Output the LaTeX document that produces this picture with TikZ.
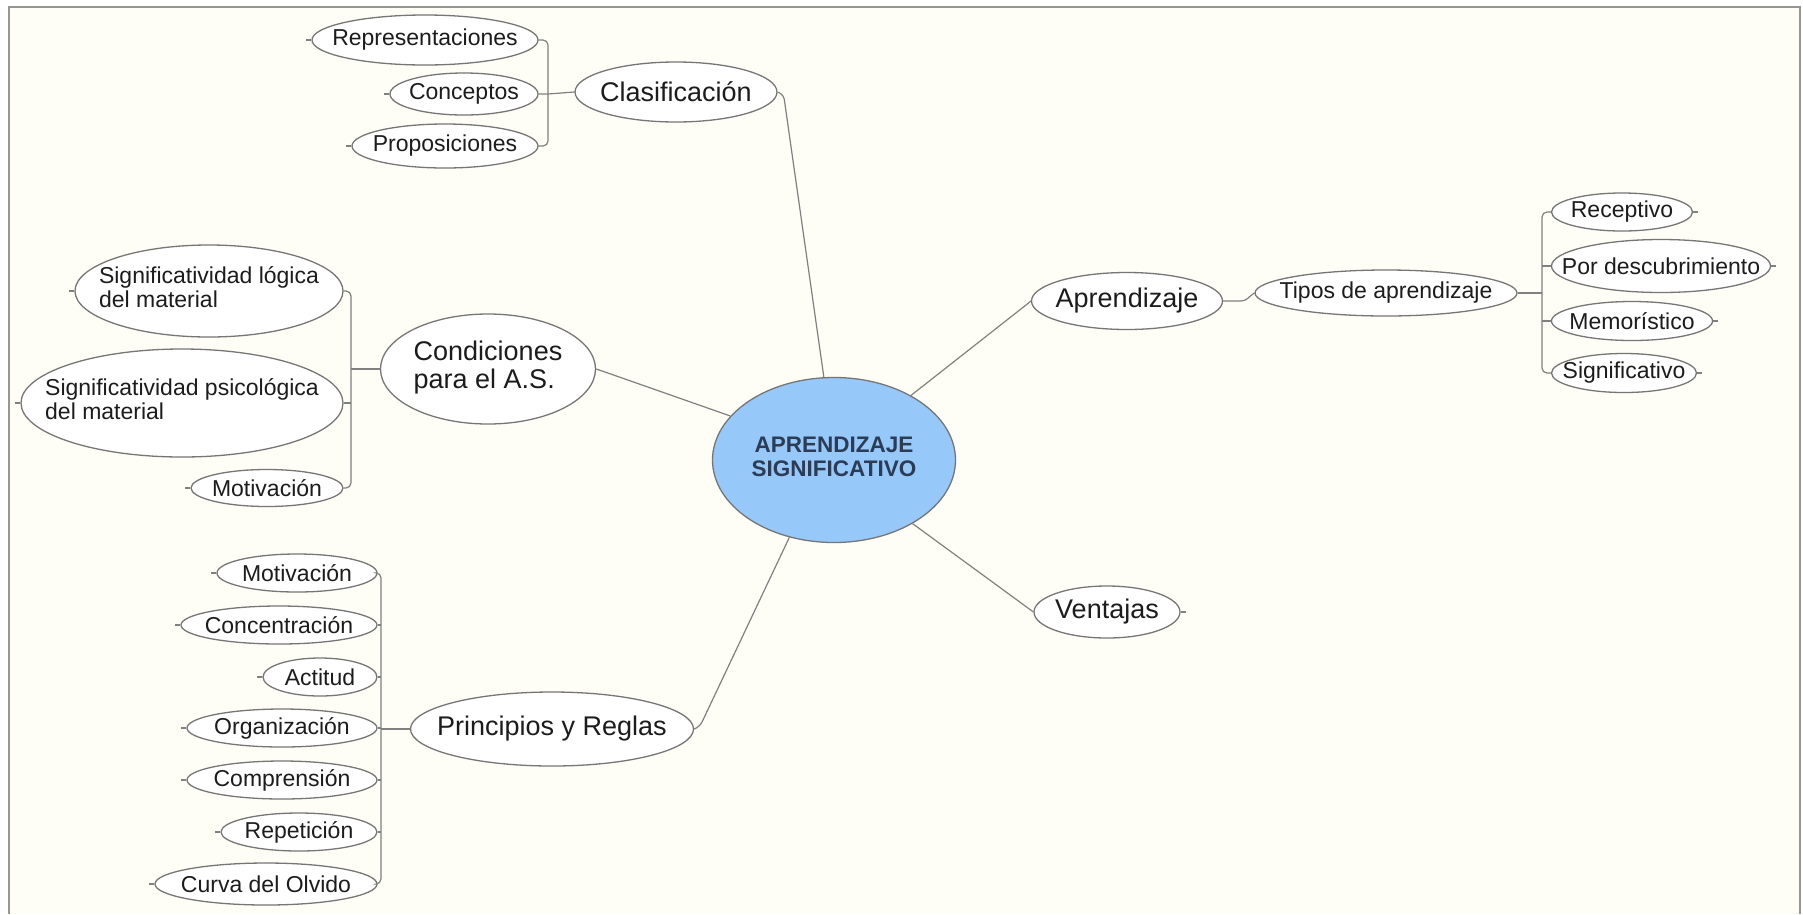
\documentclass[tikz,border=0pt]{standalone}
\usepackage{fontspec}
\setmainfont{Liberation Sans}
\usetikzlibrary{shapes.geometric}

\definecolor{paper}{RGB}{254,254,246}
\definecolor{framegray}{RGB}{150,150,146}
\definecolor{edge}{RGB}{128,128,128}
\definecolor{rim}{RGB}{118,118,118}
\definecolor{core}{RGB}{150,200,250}
\definecolor{coretext}{RGB}{44,60,85}
\definecolor{ink}{RGB}{28,28,28}

% text of a topic, kept out of the size of its ellipse
\newcommand\one[1]{\makebox[0pt]{#1}}
\newcommand\two[2]{\makebox[0pt]{\begin{tabular}{@{}l@{}}#1\\#2\end{tabular}}}

\begin{document}
\begin{tikzpicture}[x=1pt,y=-1pt,
  topic/.style={ellipse, draw=rim, line width=1.3pt, fill=white, inner sep=0pt, text=ink},
  main/.style={topic, font=\fontsize{27}{28}\selectfont},
  leaf/.style={topic, font=\fontsize{23}{24}\selectfont},
  sz/.style 2 args={minimum width=#1pt, minimum height=#2pt},
  conn/.style={draw=edge, line width=1.2pt},
  stub/.style={draw=edge, line width=1.2pt}]

\useasboundingbox (0,0) rectangle (1803,914);
\fill[white] (0,0) rectangle (1803,914);
\fill[paper] (9,7) rectangle (1800,914);
\draw[framegray, line width=2pt] (9,914) -- (9,7) -- (1800,7) -- (1800,914);

% central topic
\node[ellipse, draw=rim, line width=1.3pt, fill=core, inner sep=0pt, sz={243}{165},
      text=coretext, font=\bfseries\fontsize{22.5}{23.5}\selectfont] (ctr) at (834,460)
  {\makebox[0pt]{\begin{tabular}{@{}c@{}}APRENDIZAJE\\SIGNIFICATIVO\end{tabular}}};

% main branches
\node[main, sz={202}{60}]  (clas)  at (676,92)  {\one{Clasificación}};
\node[main, sz={215}{110}] (cond)  at (488,369) {\makebox[0pt]{\begin{tabular}{@{}l@{}}Condiciones\\para el A.S.\end{tabular}}};
\node[main, sz={283}{74}]  (princ) at (552,729) {\one{Principios y Reglas}};
\node[main, sz={191}{57}]  (apr)   at (1127,301) {\one{Aprendizaje}};
\node[main, sz={146}{52}]  (vent)  at (1107,612) {\one{Ventajas}};

% Clasificación
\node[leaf, sz={226}{50}] (rep)  at (425,40)  {\one{Representaciones}};
\node[leaf, sz={148}{42}] (conc) at (464,94)  {\one{Conceptos}};
\node[leaf, sz={186}{44}] (prop) at (445,146) {\one{Proposiciones}};

% Condiciones para el A.S.
\node[leaf, sz={268}{92}]  (siglog) at (209,291) {\two{Significatividad lógica}{del material}};
\node[leaf, sz={322}{108}] (sigpsi) at (182,403) {\two{Significatividad psicológica}{del material}};
\node[leaf, sz={152}{37}]  (motc)   at (267,488) {\one{Motivación}};

% Principios y Reglas
\node[leaf, sz={160}{38}] (motp)  at (297,573) {\one{Motivación}};
\node[leaf, sz={196}{38}] (conp)  at (279,625) {\one{Concentración}};
\node[leaf, sz={114}{38}] (act)   at (320,677) {\one{Actitud}};
\node[leaf, sz={190}{38}] (org)   at (282,728) {\one{Organización}};
\node[leaf, sz={190}{38}] (comp)  at (282,780) {\one{Comprensión}};
\node[leaf, sz={156}{38}] (repe)  at (299,832) {\one{Repetición}};
\node[leaf, sz={222}{42}] (curva) at (266,884) {\one{Curva del Olvido}};

% Aprendizaje
\node[leaf, sz={262}{46}] (tipos) at (1386,293) {\one{Tipos de aprendizaje}};
\node[leaf, sz={141}{38}] (rec)   at (1622,212) {\one{Receptivo}};
\node[leaf, sz={219}{53}] (pord)  at (1661,266) {\one{Por descubrimiento}};
\node[leaf, sz={161}{39}] (mem)   at (1632,321) {\one{Memorístico}};
\node[leaf, sz={145}{39}] (sig)   at (1624,373) {\one{Significativo}};

% bracket spines and hook points
\coordinate (b1) at (548,94);
\coordinate (b2) at (351,369);
\coordinate (b3) at (381,729);
\coordinate (b4) at (1542,293);
\coordinate (aprhook) at (1026,305);
\coordinate (venthook) at (1028,608);

% links to the central topic
\draw[conn, rounded corners=4pt] (clas.east) -- ++(6,3) -- (ctr.97);
\draw[conn, rounded corners=4pt] (cond.east) -- ++(6,2) -- (ctr.157);
\draw[conn, rounded corners=4pt] (princ.east) -- ++(6,-3) -- (ctr.240);
\draw[conn, rounded corners=4pt] (ctr.40) -- (aprhook) -- (apr.west);
\draw[conn, rounded corners=4pt] (ctr.-39) -- (venthook) -- (vent.west);

% Clasificación children
\draw[conn, rounded corners=5pt] (rep.east) -| (b1) |- (prop.east);
\draw[conn] (conc.east) -- (b1) -- (clas.west);

% Condiciones children
\draw[conn, rounded corners=5pt] (siglog.east) -| (b2) |- (motc.east);
\draw[conn] (sigpsi.east) -- (sigpsi.east -| b2);
\draw[conn] (b2) -- (cond.west);

% Principios children
\draw[conn, rounded corners=5pt] (motp.east) -| (b3) |- (curva.east);
\foreach \n in {conp,act,org,comp,repe}
  \draw[conn] (\n.east) -- (\n.east -| b3);
\draw[conn] (b3) -- (princ.west);

% Aprendizaje children
\draw[conn, rounded corners=4pt] (apr.east) -- ++(22,0) -- ++(6,-6) -- (tipos.west);
\draw[conn, rounded corners=5pt] (rec.west) -| (b4) |- (sig.west);
\foreach \n in {pord,mem}
  \draw[conn] (\n.west) -- (\n.west -| b4);
\draw[conn] (tipos.east) -- (b4);

% collapsed-branch stubs
\foreach \n in {rep,conc,prop,siglog,sigpsi,motc,motp,conp,act,org,comp,repe,curva}
  \draw[stub] (\n.west) -- ++(-5,0);
\foreach \n in {rec,pord,mem,sig,vent}
  \draw[stub] (\n.east) -- ++(5,0);
\end{tikzpicture}
\end{document}
